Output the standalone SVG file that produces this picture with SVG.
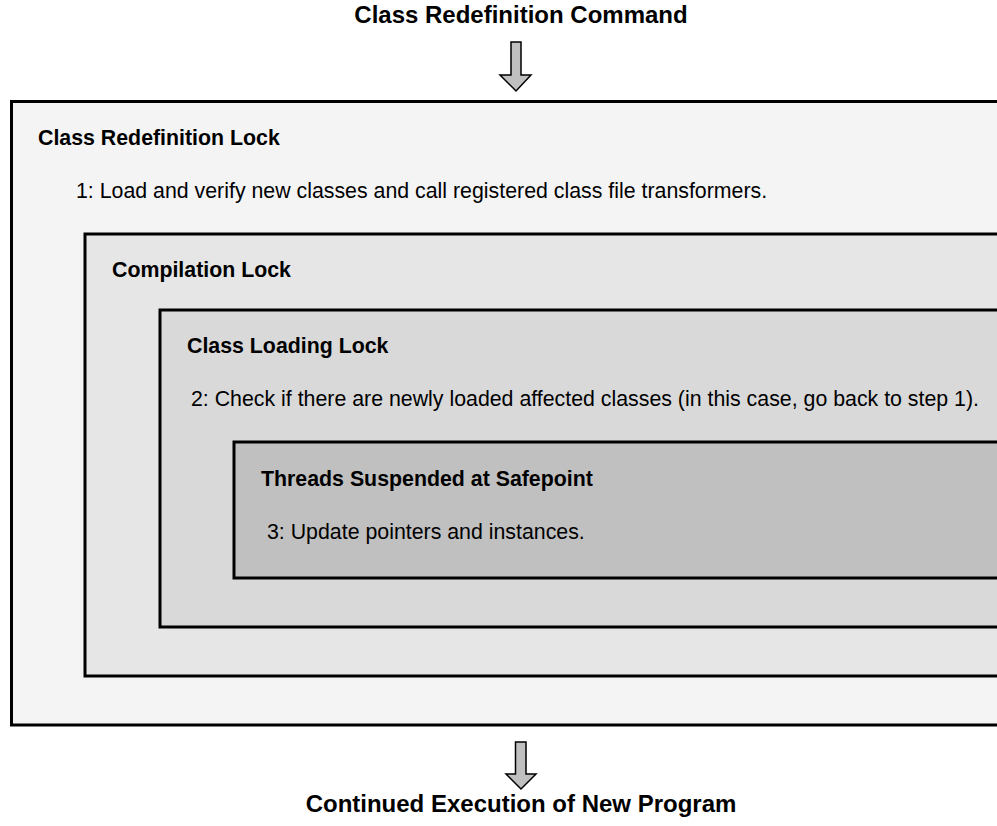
<svg xmlns="http://www.w3.org/2000/svg" width="997" height="826" viewBox="0 0 997 826">
  <defs>
    <style>
      .box { stroke: #000; stroke-width: 3; }
      .title { font-family: "Liberation Sans", Arial, sans-serif; font-weight: bold; font-size: 24px; fill: #000; text-anchor: middle; }
      .label { font-family: "Liberation Sans", Arial, sans-serif; font-weight: bold; font-size: 21.33px; fill: #000; }
      .step { font-family: "Liberation Sans", Arial, sans-serif; font-size: 21.33px; fill: #000; }
      .arrow { fill: #c0c0c0; stroke: #000; stroke-width: 1.5; stroke-linejoin: miter; }
    </style>
  </defs>
  <rect width="997" height="826" fill="#ffffff"/>

  <text class="title" x="521" y="23">Class Redefinition Command</text>

  <g id="class-redefinition-lock">
    <rect class="box" x="11.5" y="101.5" width="1000" height="623.5" fill="#f4f4f4"/>
    <text class="label" x="38" y="145">Class Redefinition Lock</text>
    <text class="step" x="76" y="198">1: Load and verify new classes and call registered class file transformers.</text>
  </g>

  <g id="compilation-lock">
    <rect class="box" x="85" y="234" width="1000" height="442" fill="#e6e6e6"/>
    <text class="label" x="112" y="277">Compilation Lock</text>
  </g>

  <g id="class-loading-lock">
    <rect class="box" x="160" y="310" width="1000" height="317" fill="#d9d9d9"/>
    <text class="label" x="187" y="353">Class Loading Lock</text>
    <text class="step" x="191" y="406">2: Check if there are newly loaded affected classes (in this case, go back to step 1).</text>
  </g>

  <g id="threads-suspended">
    <rect class="box" x="234" y="442" width="1000" height="136" fill="#c0c0c0"/>
    <text class="label" x="261" y="486">Threads Suspended at Safepoint</text>
    <text class="step" x="267" y="539">3: Update pointers and instances.</text>
  </g>

  <g id="connectors">
    <polygon class="arrow" points="511,42 521,42 521,75 531,75 516,91 500,75 511,75"/>
    <polygon class="arrow" points="515.5,742 526,742 526,774 536,774 521,789 506,774 515.5,774"/>
  </g>

  <text class="title" x="521" y="812">Continued Execution of New Program</text>
</svg>
